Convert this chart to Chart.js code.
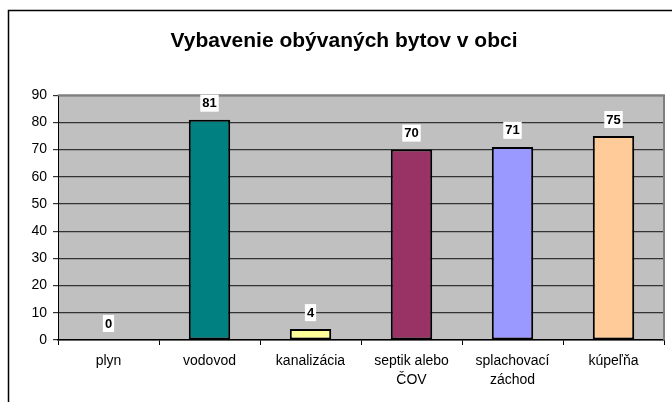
<!DOCTYPE html>
<html>
<head>
<meta charset="utf-8">
<script src="https://cdn.jsdelivr.net/npm/chart.js@4"></script>
<style>
  html, body { margin: 0; padding: 0; background: #fff; }
  #wrap { width: 672px; height: 402px; position: relative; }
</style>
</head>
<body>
<div id="wrap"><canvas id="chart" width="672" height="402"></canvas></div>
<script>
// Vybavenie obývaných bytov

const categories = ["plyn", "vodovod", "kanalizácia", ["septik alebo", "ČOV"], ["splachovací", "záchod"], "kúpeľňa"];
const values = [0, 81, 4, 70, 71, 75];
const barColors = ["#C0C0C0", "#008080", "#FFFF99", "#993366", "#9999FF", "#FFCC99"];
const yTicks = [0, 10, 20, 30, 40, 50, 60, 70, 80, 90];

const FONT = "'Liberation Sans', Arial, sans-serif";

// --- frame + plot area background ---
const frameAndPlot = {
  id: "frameAndPlot",
  beforeDraw(chart) {
    const { ctx, chartArea: a } = chart;
    ctx.save();
    ctx.strokeStyle = "#000";
    ctx.lineWidth = 1.5;
    ctx.beginPath();
    ctx.moveTo(8.5, 410);
    ctx.lineTo(8.5, 10.5);
    ctx.lineTo(680, 10.5);
    ctx.stroke();
    ctx.fillStyle = "#C0C0C0";
    ctx.fillRect(a.left, a.top, a.right - a.left, a.bottom - a.top);
    ctx.restore();
  },
  afterDatasetsDraw(chart) {
    const { ctx, chartArea: a } = chart;
    ctx.save();
    ctx.strokeStyle = "#808080";
    ctx.lineWidth = 2;
    ctx.beginPath();
    ctx.moveTo(a.left, a.top);
    ctx.lineTo(a.right, a.top);
    ctx.lineTo(a.right, a.bottom);
    ctx.stroke();
    ctx.restore();
  }
};

// --- bold value labels with white box ---
const valueLabels = {
  id: "valueLabels",
  afterDatasetsDraw(chart) {
    const { ctx } = chart;
    const meta = chart.getDatasetMeta(0);
    ctx.save();
    ctx.font = "bold 13px " + FONT;
    ctx.textAlign = "center";
    ctx.textBaseline = "middle";
    meta.data.forEach((bar, i) => {
      const txt = String(values[i]);
      const w = ctx.measureText(txt).width + 4;
      const yb = bar.y - 8;
      ctx.fillStyle = "#fff";
      ctx.fillRect(bar.x - w / 2, yb - 17, w, 17);
      ctx.fillStyle = "#000";
      ctx.fillText(txt, bar.x, yb - 8);
    });
    ctx.restore();
  }
};

new Chart(document.getElementById("chart"), {
  type: "bar",
  data: {
    labels: categories,
    datasets: [{
      data: values,
      backgroundColor: barColors,
      borderColor: "#000",
      borderWidth: 2,
      borderSkipped: false,
      barPercentage: 0.41,
      categoryPercentage: 1
    }]
  },
  options: {
    responsive: false,
    animation: false,
    layout: { padding: { left: 24, right: 8, top: 0, bottom: 0 } },
    plugins: {
      legend: { display: false },
      tooltip: { enabled: false },
      title: {
        display: true,
        text: "Vybavenie obývaných bytov v obci",
        color: "#000",
        font: { family: FONT, size: 21, weight: "bold" },
        padding: { top: 29, bottom: 41 }
      }
    },
    scales: {
      x: {
        grid: { display: true, drawOnChartArea: false, offset: true, color: "#000", tickLength: 5, lineWidth: 1 },
        border: { color: "#000", width: 1.5 },
        ticks: { color: "#000", font: { family: FONT, size: 14, lineHeight: 1.35 }, padding: 7, maxRotation: 0, autoSkip: false },
        afterFit(scale) { scale.height = 62; }
      },
      y: {
        min: 0,
        max: 90,
        afterBuildTicks(scale) { scale.ticks = yTicks.map(v => ({ value: v })); },
        grid: { color: "#333", tickLength: 5, lineWidth: 1.2 },
        border: { color: "#000", width: 1 },
        ticks: { color: "#000", font: { family: FONT, size: 14 }, padding: 6 },
        afterFit(scale) { scale.width = 34; }
      }
    }
  },
  plugins: [frameAndPlot, valueLabels]
});
</script>
</body>
</html>
